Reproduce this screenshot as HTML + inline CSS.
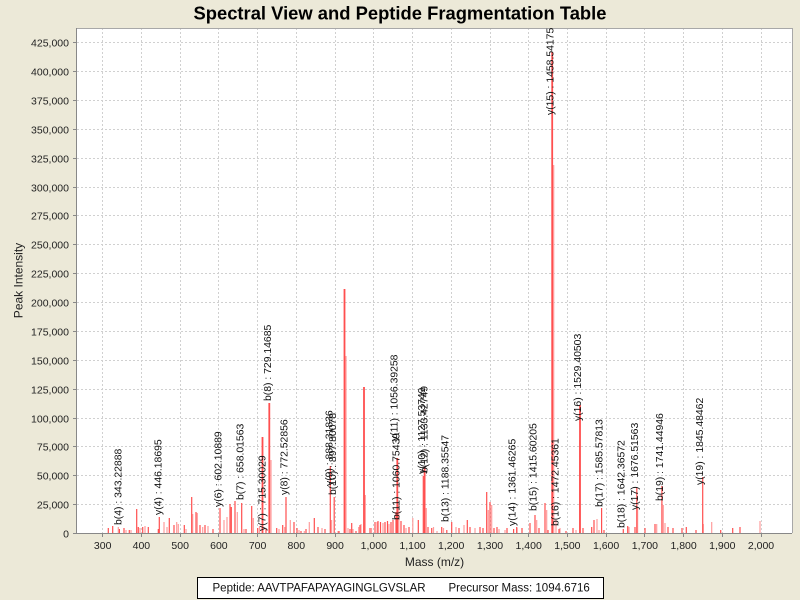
<!DOCTYPE html>
<html><head><meta charset="utf-8"><style>
html,body{margin:0;padding:0;background:#ece9d8;}
svg{display:block;font-family:"Liberation Sans",Arial,sans-serif;}
</style></head><body>
<svg width="800" height="600" viewBox="0 0 800 600" xmlns="http://www.w3.org/2000/svg">
<rect x="0" y="0" width="800" height="600" fill="#ece9d8"/>
<text x="400" y="19.5" font-size="18" font-weight="bold" text-anchor="middle" textLength="413" lengthAdjust="spacingAndGlyphs" fill="#000">Spectral View and Peptide Fragmentation Table</text>
<rect x="77" y="28" width="715" height="505.5" fill="#fff"/>
<g stroke="#d0d0d0" stroke-width="1" stroke-dasharray="2,2" fill="none">
<path d="M77 42.5H792M77 71.5H792M77 100.5H792M77 129.5H792M77 158.5H792M77 187.5H792M77 215.5H792M77 244.5H792M77 273.5H792M77 302.5H792M77 331.5H792M77 360.5H792M77 389.5H792M77 418.5H792M77 446.5H792M77 475.5H792M77 504.5H792"/>
<path d="M102.5 28V533M141.5 28V533M180.5 28V533M218.5 28V533M257.5 28V533M296.5 28V533M335.5 28V533M373.5 28V533M412.5 28V533M451.5 28V533M490.5 28V533M528.5 28V533M567.5 28V533M606.5 28V533M644.5 28V533M683.5 28V533M722.5 28V533M761.5 28V533"/>
</g>
<!-- light peaks -->
<path fill="none" stroke="#ff9d9d" stroke-width="1.2" d="M118.3 533V527M126 533V530M131 533V530M140 533V528M145 533V526M164 533V522M167 533V527M176.7 533V522M178.3 533V524M186 533V529M192.7 533V514M197.3 533V513M202.7 533V527M208 533V526M224 533V520M227 533V517M237.3 533V512M244 533V529M253.3 533V518M259.5 533V526M271 533V460M279 533V529M284.7 533V527M290.3 533V520M299 533V530M304.3 533V531M309.3 533V522M322 533V528M331.6 533V520M338 533V531M346 533V356M348 533V528M353 533V529M358.7 533V527M361 533V524M365.3 533V495M371.5 533V528M377 533V522M383 533V523M389 533V524M398.8 533V505M406 533V528M412.8 533V518M426.3 533V508M433.5 533V527M437 533V531M443.5 533V528M456 533V527M464 533V525M475 533V528M488.3 533V510M491.7 533V505M499 533V529M505 533V530M517 533V528M536.7 533V520M546.7 533V510M553.7 533V165M556 533V520M560 533V528M576 533V530M579.6 533V440M597 533V519M599 533V530M629 533V527M637.6 533V507M656.7 533V524M663.3 533V505M665 533V523M703.3 533V524M711.7 533V522M760 533V521"/>
<!-- solid peaks -->
<path fill="none" stroke="#ff4f4f" stroke-width="1.2" d="M108.3 533V528M112.7 533V526M119.4 533V529M124 533V528M129.3 533V530M136.7 533V509M138.3 533V527M142.7 533V527M148.3 533V527M158.3 533V529M159.3 533V517M169.3 533V518M174 533V525M184.3 533V525M191.7 533V497M196 533V512M200 533V525M205 533V525M213 533V529M220 533V508M230 533V504M231.3 533V507M235 533V501M241.7 533V503M246 533V529M251.7 533V506M257.7 533V528M266 533V529M276.7 533V528M282.7 533V525M286 533V497M294 533V522M297 533V528M301 533V531M306 533V529M314.3 533V518M318 533V527M325 533V529M330.3 533V466M334.2 533V497M339 533V531M350 533V529M351.7 533V523M356 533V531M360 533V525M370 533V528M375 533V522M378 533V521M380.5 533V522M385 533V522M387.5 533V521M391 533V522M393 533V520M396 533V512M401 533V521M404 533V525M409 533V527M418.3 533V520M423.3 533V476M428 533V527M431.7 533V528M441.7 533V527M446.8 533V530M451.7 533V522M459 533V528M467.3 533V520M470 533V527M480 533V527M483 533V528M486.7 533V492M490 533V502M494 533V528M497 533V527M507 533V528M513.6 533V529M516.7 533V527M522 533V528M530 533V523M535 533V515M539 533V528M545 533V503M548 533V530M559 533V529M566 533V531M573 533V528M583 533V528M591.7 533V527M594 533V520M601.6 533V508M604 533V530M623.3 533V529M627.7 533V526M635 533V527M636.8 533V488M645 533V528M655 533V524M661.9 533V486M668 533V527M673 533V528M682 533V528M686.3 533V527M696 533V530M702.7 533V477M720.7 533V530M732.7 533V528M740 533V527"/>
<path fill="none" stroke="#ff4f4f" stroke-width="1.8" d="M552.2 533V52M344.5 533V289M364 533V387M269.3 533V403M262.5 533V437M580 533V405M424.6 533V467M397.3 533V458"/>
<!-- outline & axes -->
<path d="M77 28.5H792.5V533" stroke="#a8a8a8" stroke-width="1" fill="none"/>
<path d="M76.5 28V533.5H792" stroke="#888" stroke-width="1" fill="none"/>
<!-- y ticks -->
<g stroke="#888" stroke-width="1"><path d="M73 42.5H77M73 71.5H77M73 100.5H77M73 129.5H77M73 158.5H77M73 187.5H77M73 215.5H77M73 244.5H77M73 273.5H77M73 302.5H77M73 331.5H77M73 360.5H77M73 389.5H77M73 418.5H77M73 446.5H77M73 475.5H77M73 504.5H77M73 533.5H77"/>
<path d="M102.5 533V537M141.5 533V537M180.5 533V537M218.5 533V537M257.5 533V537M296.5 533V537M335.5 533V537M373.5 533V537M412.5 533V537M451.5 533V537M490.5 533V537M528.5 533V537M567.5 533V537M606.5 533V537M644.5 533V537M683.5 533V537M722.5 533V537M761.5 533V537"/></g>
<g font-size="10.5" fill="#222" text-anchor="end">
<text x="69" y="46.3">425,000</text><text x="69" y="75.3">400,000</text><text x="69" y="104.3">375,000</text><text x="69" y="133.3">350,000</text><text x="69" y="162.3">325,000</text><text x="69" y="191.3">300,000</text><text x="69" y="219.3">275,000</text><text x="69" y="248.3">250,000</text><text x="69" y="277.3">225,000</text><text x="69" y="306.3">200,000</text><text x="69" y="335.3">175,000</text><text x="69" y="364.3">150,000</text><text x="69" y="393.3">125,000</text><text x="69" y="422.3">100,000</text><text x="69" y="450.3">75,000</text><text x="69" y="479.3">50,000</text><text x="69" y="508.3">25,000</text><text x="69" y="537.3">0</text>
</g>
<g font-size="10.5" fill="#222" text-anchor="middle">
<text x="102.7" y="549">300</text><text x="141.4" y="549">400</text><text x="180.2" y="549">500</text><text x="218.9" y="549">600</text><text x="257.6" y="549">700</text><text x="296.3" y="549">800</text><text x="335.1" y="549">900</text><text x="373.8" y="549">1,000</text><text x="412.5" y="549">1,100</text><text x="451.2" y="549">1,200</text><text x="490" y="549">1,300</text><text x="528.7" y="549">1,400</text><text x="567.4" y="549">1,500</text><text x="606.1" y="549">1,600</text><text x="644.9" y="549">1,700</text><text x="683.6" y="549">1,800</text><text x="722.3" y="549">1,900</text><text x="761" y="549">2,000</text>
</g>
<text x="434.5" y="566" font-size="12" text-anchor="middle" fill="#222">Mass (m/z)</text>
<text transform="translate(22.5,280.5) rotate(-90)" font-size="12" text-anchor="middle" fill="#222">Peak Intensity</text>
<!-- peak labels -->
<g font-size="10.4" fill="#111">
<text transform="translate(121.4,525) rotate(-90)">b(4) : 343.22888</text>
<text transform="translate(161.3,515) rotate(-90)">y(4) : 446.18695</text>
<text transform="translate(221.7,507) rotate(-90)">y(6) : 602.10889</text>
<text transform="translate(243.3,500) rotate(-90)">b(7) : 658.01563</text>
<text transform="translate(265.5,531) rotate(-90)">y(7) : 715.30029</text>
<text transform="translate(271,401) rotate(-90)">b(8) : 729.14685</text>
<text transform="translate(287.7,495) rotate(-90)">y(8) : 772.52856</text>
<text transform="translate(332.5,486) rotate(-90)">y(9) : 888.31836</text>
<text transform="translate(336.1,495) rotate(-90)">b(10) : 897.80078</text>
<text transform="translate(397.6,441) rotate(-90)">y(11) : 1056.39258</text>
<text transform="translate(399.3,520) rotate(-90)">b(11) : 1060.75439</text>
<text transform="translate(425.1,474) rotate(-90)">y(10) : 1127.53749</text>
<text transform="translate(427.4,473) rotate(-90)">b(12) : 1133.42749</text>
<text transform="translate(448.7,522) rotate(-90)">b(13) : 1188.35547</text>
<text transform="translate(515.6,526) rotate(-90)">y(14) : 1361.46265</text>
<text transform="translate(536.6,511) rotate(-90)">b(15) : 1415.60205</text>
<text transform="translate(553.3,115) rotate(-90)">y(15) : 1458.54175</text>
<text transform="translate(558.7,526) rotate(-90)">b(16) : 1472.45361</text>
<text transform="translate(580.8,421) rotate(-90)">y(16) : 1529.40503</text>
<text transform="translate(602.5,507) rotate(-90)">b(17) : 1585.57813</text>
<text transform="translate(624.5,528) rotate(-90)">b(18) : 1642.36572</text>
<text transform="translate(637.8,510) rotate(-90)">y(17) : 1676.51563</text>
<text transform="translate(662.9,501) rotate(-90)">b(19) : 1741.44946</text>
<text transform="translate(703.2,485) rotate(-90)">y(19) : 1845.48462</text>
</g>
<!-- legend -->
<rect x="197.5" y="577.5" width="406" height="21" fill="#fff" stroke="#000" stroke-width="1"/>
<text x="212.5" y="591.5" font-size="11.5" fill="#111">Peptide: AAVTPAFAPAYAGINGLGVSLAR</text>
<text x="448.5" y="591.5" font-size="11.5" fill="#111">Precursor Mass: 1094.6716</text>
</svg>
</body></html>
